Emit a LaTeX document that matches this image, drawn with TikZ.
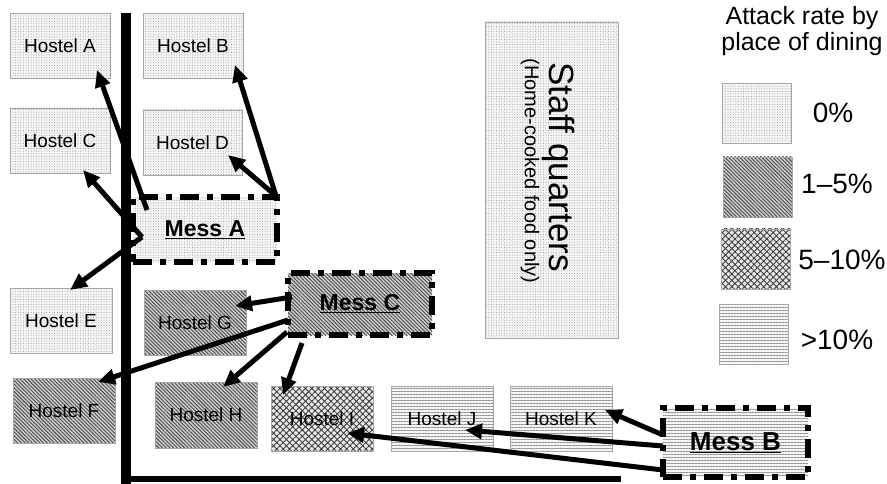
\documentclass[tikz,border=0pt]{standalone}
\usepackage{fontspec}
\setmainfont{Liberation Sans}
\usetikzlibrary{patterns.meta,arrows.meta}
\begin{document}
\begin{tikzpicture}[x=1pt,y=-1pt,
  box/.style={draw=gray!70,line width=0.8pt,minimum width=100pt,minimum height=65pt,inner sep=0pt,
    font=\fontsize{19}{22}\selectfont},
  zero/.style={preaction={fill=gray!8},pattern={Dots[distance=2.6pt,radius=0.5pt]},pattern color=gray!85},
  low/.style={preaction={fill=gray!38},pattern={Lines[angle=-45,distance=2.6pt,line width=0.9pt]},pattern color=black!72},
  mid/.style={preaction={fill=gray!18},pattern={Hatch[angle=45,distance=4.5pt,line width=0.9pt]},pattern color=black!75},
  high/.style={preaction={fill=gray!8},pattern={Lines[angle=0,distance=3pt,line width=0.9pt]},pattern color=gray!85},
  mess/.style={draw=black,line width=5.5pt,dash pattern=on 19pt off 8pt on 6pt off 8pt,
    minimum width=144pt,minimum height=65pt,inner sep=0pt,font=\bfseries\fontsize{23}{26}\selectfont},
  arr/.style={line width=5pt,-{Triangle[length=17pt,width=15pt]}},
  leg/.style={draw=gray!70,line width=0.8pt,minimum width=69pt,minimum height=60pt,inner sep=0pt},
  legtxt/.style={font=\fontsize{28}{30}\selectfont,inner sep=0pt}]
\useasboundingbox (0,0) rectangle (887,484);
\fill[white] (0,0) rectangle (887,484);
% roads
\draw[line width=10pt] (126,13) -- (126,484);
\draw[line width=6pt] (121,479) -- (621,479);
% hostels
\node[box,zero] (hA) at (60,45.5) {Hostel A};
\node[box,zero] (hB) at (193,45.5) {Hostel B};
\node[box,zero] (hC) at (60,140.5) {Hostel C};
\node[box,zero,minimum width=99pt] (hD) at (192.5,142.5) {Hostel D};
\node[box,zero,minimum width=102pt] (hE) at (61,320.5) {Hostel E};
\node[box,low,minimum width=102pt] (hG) at (195,322.5) {Hostel G};
\node[box,low,minimum width=102pt] (hF) at (64,410.5) {Hostel F};
\node[box,low,minimum width=102pt,minimum height=66pt] (hH) at (206,415) {Hostel H};
\node[box,mid,minimum width=102pt] (hI) at (322,418.5) {Hostel I};
\node[box,high,minimum width=102pt] (hJ) at (442,418.5) {Hostel J};
\node[box,high,minimum width=102pt] (hK) at (561,418.5) {Hostel K};
% staff quarters
\node[box,zero,minimum width=133pt,minimum height=316pt] (sq) at (551.5,180) {};
\node[rotate=-90,font=\fontsize{35}{36}\selectfont,inner sep=0pt] (sqt) at (559,167) {Staff quarters};
\node[rotate=-90,font=\fontsize{20}{22}\selectfont,inner sep=0pt] (sqs) at (530,171) {(Home-cooked food only)};
% messes
\node[mess,zero] (mA) at (205,229.5) {\underline{Mess A}};
\node[mess,low,minimum height=62pt] (mC) at (360,304) {\underline{Mess C}};
\node[mess,high,minimum width=145pt,minimum height=69pt,font=\bfseries\fontsize{26}{28}\selectfont] (mB) at (735.5,442.5) {\underline{Mess B}};
% arrows
\draw[arr] ([shift={(-58,-19.5)}]mA.center) -- ([shift={(37,24.5)}]hA.center);
\draw[arr] ([shift={(-63,7.5)}]mA.center) -- ([shift={(23,29.5)}]hC.center);
\draw[arr] ([shift={(-63,7.5)}]mA.center) -- ([shift={(9,-30.5)}]hE.center);
\draw[arr] ([shift={(71,-33.5)}]mA.center) -- ([shift={(42,19.5)}]hB.center);
\draw[arr] ([shift={(71,-33.5)}]mA.center) -- ([shift={(35.5,12.5)}]hD.center);
\draw[arr] ([shift={(-68,-7)}]mC.center) -- ([shift={(40,-16.5)}]hG.center);
\draw[arr] ([shift={(-72,16)}]mC.center) -- ([shift={(34,-28.5)}]hF.center);
\draw[arr] ([shift={(-73,28)}]mC.center) -- ([shift={(17,-28)}]hH.center);
\draw[arr] ([shift={(-58,39)}]mC.center) -- ([shift={(-39,-23.5)}]hI.center);
\draw[arr] ([shift={(-72.5,-7.5)}]mB.center) -- ([shift={(44,-8.5)}]hK.center);
\draw[arr] ([shift={(-72.5,3.5)}]mB.center) -- ([shift={(23,11.5)}]hJ.center);
\draw[arr] ([shift={(-72.5,27.5)}]mB.center) -- ([shift={(25,14.5)}]hI.center);
% legend
\node[font=\fontsize{25}{26}\selectfont,align=center,inner sep=0pt] (lt) at (802,31) {Attack rate by\\place of dining};
\node[leg,zero] (l0) at (756.5,113) {};
\node[leg,low] (l1) at (757.5,187) {};
\node[leg,mid] (l2) at (755.5,259) {};
\node[leg,high] (l3) at (753.5,334) {};
\node[legtxt] (t0) at (833,113) {0\%};
\node[legtxt] (t1) at (837,184) {1–5\%};
\node[legtxt] (t2) at (842,260) {5–10\%};
\node[legtxt] (t3) at (837,340) {>10\%};
\end{tikzpicture}
\end{document}
